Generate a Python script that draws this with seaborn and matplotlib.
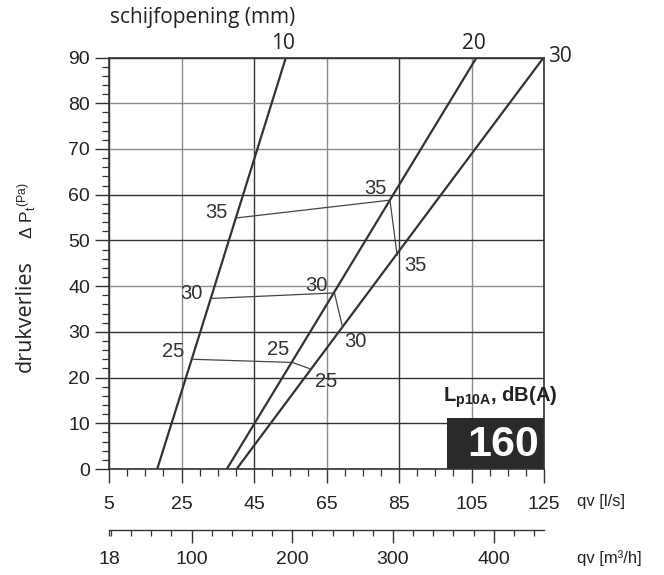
import numpy as np
import pandas as pd
import matplotlib
matplotlib.use("Agg")
import matplotlib.pyplot as plt
import seaborn as sns
from matplotlib.ticker import MultipleLocator, FixedLocator, FuncFormatter
from matplotlib.patches import Rectangle

# ---------------- data ----------------
openings = [10, 20, 30]                       # schijfopening (mm)
curve_pressure = [0, 30, 60, 90]              # Pa
flow_open10 = [18.3, 30.2, 42.0, 53.8]        # l/s
flow_open20 = [37.5, 60.5, 83.4, 106.4]
flow_open30 = [40.2, 68.4, 96.6, 124.9]

levels = [25, 30, 35]                         # Lp10A dB(A)
iso25_flow = [28.0, 55.6, 60.9]
iso25_p = [24.0, 23.3, 21.8]
iso30_flow = [33.1, 67.2, 69.4]
iso30_p = [37.3, 38.5, 31.1]
iso35_flow = [40.0, 82.5, 84.5]
iso35_p = [54.9, 58.8, 46.7]

# label anchor points for the dB values (flow, pressure)
lab25_flow = [22.6, 51.7, 65.0]
lab25_p = [25.6, 26.2, 19.1]
lab30_flow = [27.8, 62.3, 73.0]
lab30_p = [38.4, 40.2, 27.8]
lab35_flow = [34.7, 78.4, 89.4]
lab35_p = [56.2, 61.3, 44.6]

open_label_flow = [53.0, 105.7, 129.3]
open_label_p = [93.0, 93.0, 90.2]

x_ticks = [5, 25, 45, 65, 85, 105, 125]
y_ticks = [0, 10, 20, 30, 40, 50, 60, 70, 80, 90]
m3h_ticks = [100, 200, 300, 400]
diameter = "160"

# ---------------- build tables ----------------
curves = pd.DataFrame({
    "opening": np.repeat(openings, len(curve_pressure)),
    "p": curve_pressure * 3,
    "flow": flow_open10 + flow_open20 + flow_open30,
})
iso = pd.DataFrame({
    "level": np.repeat(levels, 3),
    "flow": iso25_flow + iso30_flow + iso35_flow,
    "p": iso25_p + iso30_p + iso35_p,
})

# ---------------- figure ----------------
sns.set_theme(style="white")
plt.rcParams["font.family"] = ["Liberation Sans", "DejaVu Sans"]
plt.rcParams["mathtext.fontset"] = "custom"
plt.rcParams["mathtext.rm"] = "Liberation Sans"
plt.rcParams["mathtext.bf"] = "Liberation Sans:bold"
plt.rcParams["mathtext.it"] = "Liberation Sans:italic"

W, H = 664, 575
fig = plt.figure(figsize=(W / 100, H / 100), dpi=100)
ax = fig.add_axes([109 / W, 1 - 469 / H, 435 / W, 411.5 / H])

dark = "#333333"
gray = "#8c8c8c"

sns.lineplot(data=curves, x="flow", y="p", units="opening", estimator=None,
             sort=False, color=dark, lw=1.6, ax=ax, zorder=3)
sns.lineplot(data=iso, x="flow", y="p", units="level", estimator=None,
             sort=False, color="#444444", lw=0.9, ax=ax, zorder=3)

ax.set_xlim(5, 125)
ax.set_ylim(0, 90)
ax.set_xlabel("")
ax.set_ylabel("")
ax.set_xticks(x_ticks)
ax.set_yticks(y_ticks)
ax.xaxis.set_minor_locator(MultipleLocator(5))
ax.yaxis.set_minor_locator(MultipleLocator(2))

ax.tick_params(axis="both", which="both", direction="out", colors=dark,
               labelcolor="#222222", labelsize=14)
ax.tick_params(axis="both", which="major", length=10, width=1.0)
ax.tick_params(axis="both", which="minor", length=5, width=0.9)
ax.tick_params(axis="x", which="major", pad=9.5)
ax.tick_params(axis="y", which="major", pad=3.5)
ax.tick_params(left=True, bottom=True)
ax.tick_params(which="minor", left=True, bottom=True)

for s in ax.spines.values():
    s.set_color(dark)
    s.set_linewidth(1.2)
    s.set_visible(True)

ax.grid(True, which="major", lw=1.0)
xcol = {25: gray, 45: dark, 65: gray, 85: dark, 105: gray}
ycol = {10: dark, 20: dark, 30: dark, 40: gray, 50: dark, 60: dark, 70: gray, 80: gray}
for t, gl in zip(x_ticks, ax.xaxis.get_gridlines()):
    gl.set_color(xcol.get(t, dark))
for t, gl in zip(y_ticks, ax.yaxis.get_gridlines()):
    gl.set_color(ycol.get(t, dark))
ax.set_axisbelow(True)

# black box with diameter
box_x0 = 98.3
ax.add_patch(Rectangle((box_x0, 0), 125 - box_x0, 11.1, facecolor="#2a2a2a",
                       edgecolor="none", zorder=2.5))
ax.text(113.6, 5.3, diameter, color="white", weight="bold", size=31,
        ha="center", va="center", zorder=4)
ax.text(112.8, 15.6, r"$\mathbf{L_{p10A}}$, dB(A)", weight="bold", size=14.5,
        ha="center", va="center", color="#222222", zorder=4)

# dB labels
for fl, pl, lev in [(lab25_flow, lab25_p, 25), (lab30_flow, lab30_p, 30),
                    (lab35_flow, lab35_p, 35)]:
    for f, p in zip(fl, pl):
        ax.text(f, p, str(lev), size=14.5, ha="center", va="center",
                color="#333333", zorder=4)

# opening labels
for f, p, o in zip(open_label_flow, open_label_p, openings):
    ax.text(f, p, str(o), size=15, ha="center", va="center", color="#222222",
            family=["Open Sans", "DejaVu Sans"], clip_on=False)

# secondary axis in m3/h
sec = ax.secondary_xaxis(-0.148, functions=(lambda v: v * 3.6, lambda q: q / 3.6))
sec.set_xticks(m3h_ticks)
sec.xaxis.set_minor_locator(FixedLocator([18] + list(range(20, 450, 20))))
sec.xaxis.set_minor_formatter(FuncFormatter(lambda x, pos: "18" if abs(x - 18) < 0.5 else ""))
sec.tick_params(axis="x", which="both", direction="out", colors=dark,
                labelcolor="#222222", labelsize=14)
sec.tick_params(axis="x", which="major", length=9.5, width=1.0, pad=6)
sec.tick_params(axis="x", which="minor", length=4.5, width=0.9, pad=11)
sec.spines["bottom"].set_color(dark)
sec.spines["bottom"].set_linewidth(1.0)

# texts
fig.text(577 / W, 1 - 501.7 / H, "qv [l/s]", size=12, ha="left", va="center",
         color="#222222")
fig.text(577 / W, 1 - 558 / H, "qv [m³/h]", size=12, ha="left", va="center",
         color="#222222")
fig.text(110 / W, 1 - 17 / H, "schijfopening (mm)", size=15, ha="left",
         va="center", family=["Open Sans", "DejaVu Sans"], color="#222222")
fig.text(25 / W, 1 - 316 / H, "drukverlies", size=15.5, rotation=90,
         ha="center", va="center", family=["Open Sans", "DejaVu Sans"],
         color="#222222")
fig.text(27 / W, 1 - 211 / H, r"Δ P$_{\mathrm{t}}$$^{\mathrm{(Pa)}}$", size=12.5,
         rotation=90, ha="center", va="center", color="#222222")

fig.savefig("out.png", dpi=100)
